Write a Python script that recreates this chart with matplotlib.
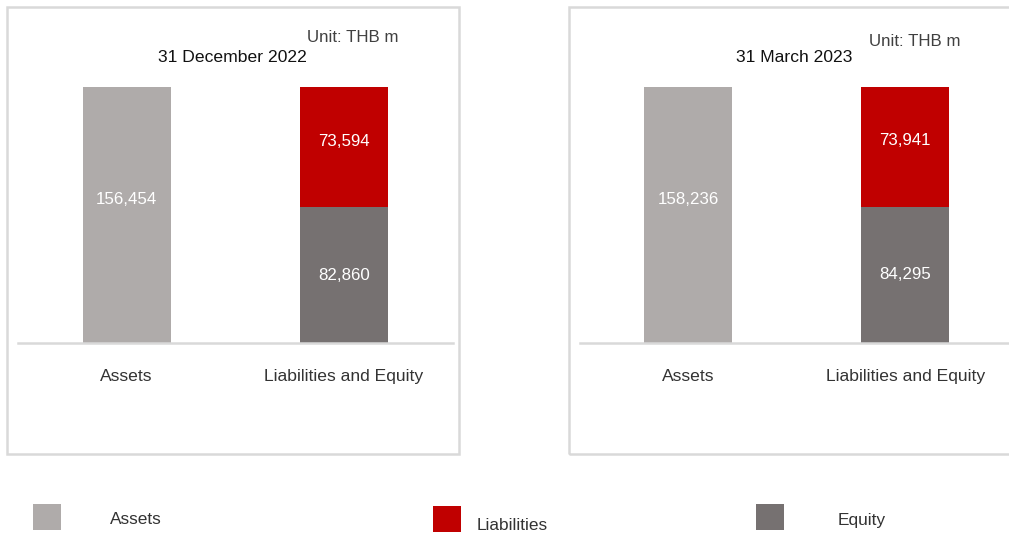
import matplotlib.pyplot as plt
from matplotlib.patches import Rectangle

plt.rcParams['font.family'] = ['Liberation Sans', 'DejaVu Sans']

# data
periods = ['31 December 2022', '31 March 2023']
categories = ['Assets', 'Liabilities and Equity']
assets = [156454, 158236]
liabilities = [73594, 73941]
equity = [82860, 84295]

c_assets = '#AFABAA'
c_liab = '#C00000'
c_equity = '#767171'
c_grid = '#D9D9D9'

W, H = 1009, 533
fig = plt.figure(figsize=(W / 100, H / 100), dpi=100)


def fx(x):
    return x / W


def fy(y):
    return 1 - y / H


# panel frames, axes placement (pixels)
frames = [(7, 7, 452, 447), (569, 7, 460, 447)]
axes_left = [18, 579.5]
title_x = [232, 794]
unit_pos = [(307, 38), (869, 42)]

for i in range(2):
    x0, y0, w, h = frames[i]
    fig.patches.append(Rectangle((fx(x0), fy(y0 + h)), w / W, h / H,
                                 transform=fig.transFigure, fill=False,
                                 edgecolor=c_grid, linewidth=1.8))

    ax = fig.add_axes([fx(axes_left[i]), fy(343), 434.5 / W, (343 - 87) / H])
    xs = [0, 1]
    ax.bar(xs[0], assets[i], width=0.405, color=c_assets)
    ax.bar(xs[1], equity[i], width=0.405, color=c_equity)
    ax.bar(xs[1], liabilities[i], width=0.405, bottom=equity[i], color=c_liab)
    total = equity[i] + liabilities[i]
    ax.set_xlim(-0.5, 1.5)
    ax.set_ylim(0, max(assets[i], total))

    ax.text(xs[0], assets[i] * 0.56, f'{assets[i]:,}', ha='center', va='center',
            color='white', fontsize=12.2)
    ax.text(xs[1], equity[i] * 0.5, f'{equity[i]:,}', ha='center', va='center',
            color='white', fontsize=12.2)
    ax.text(xs[1], equity[i] + liabilities[i] * 0.55, f'{liabilities[i]:,}',
            ha='center', va='center', color='white', fontsize=12.2)

    for s in ['top', 'right', 'left']:
        ax.spines[s].set_visible(False)
    ax.spines['bottom'].set_color(c_grid)
    ax.spines['bottom'].set_linewidth(1.8)
    ax.set_yticks([])
    ax.set_xticks(xs)
    ax.set_xticklabels(categories, fontsize=12.6, color='#333333')
    ax.tick_params(axis='x', length=0, pad=19)

    fig.text(fx(title_x[i]), fy(57.5), periods[i], ha='center', va='center',
             fontsize=12.6, color='#111111')
    fig.text(fx(unit_pos[i][0]), fy(unit_pos[i][1]), 'Unit: THB m', ha='left',
             va='center', fontsize=12.2, color='#404040')

# legend
legend_items = [('Assets', c_assets, (33, 504), (110, 519.5)),
                ('Liabilities', c_liab, (433, 506), (477, 525.5)),
                ('Equity', c_equity, (756, 504), (838, 521))]
for label, color, (sx, sy), (tx, ty) in legend_items:
    fig.patches.append(Rectangle((fx(sx), fy(sy + 26)), 28 / W, 26 / H,
                                 transform=fig.transFigure, facecolor=color,
                                 edgecolor='none'))
    fig.text(fx(tx), fy(ty), label, ha='left', va='center', fontsize=12.4,
             color='#333333')

fig.savefig('out.png', dpi=100)
